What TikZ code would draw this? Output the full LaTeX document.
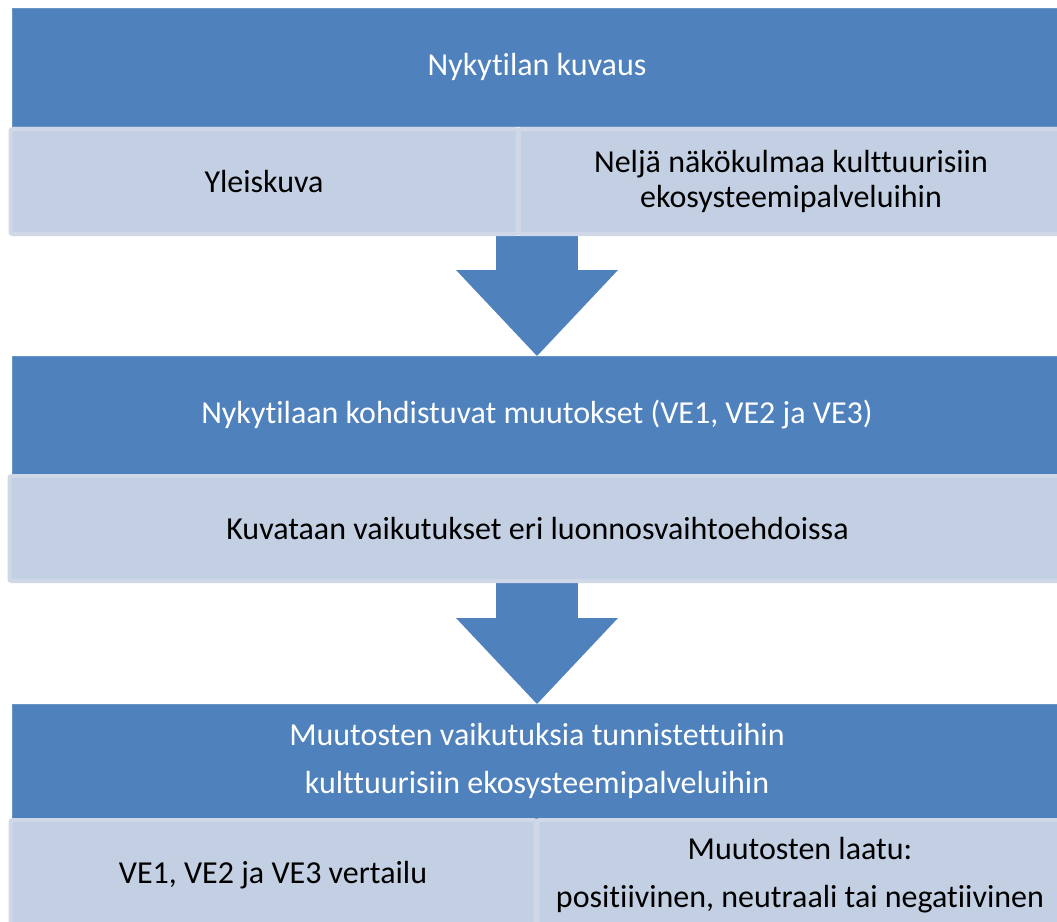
\documentclass[tikz,border=0pt]{standalone}
\usepackage{fontspec}
\setmainfont[Ligatures=NoCommon]{Carlito}
\usetikzlibrary{arrows.meta}
\definecolor{darkblue}{RGB}{79,129,189}
\definecolor{lightfill}{RGB}{195,207,226}
\definecolor{lightedge}{RGB}{208,216,232}
\tikzset{
  x=1pt, y=-1pt,
  darkbox/.style={fill=darkblue, draw=darkblue!85!white, line width=0.8pt, text=white,
    minimum width=1050pt, minimum height=#1, inner sep=0pt, outer sep=0pt, align=center,
    font=\fontsize{32}{38}\selectfont},
  lightbox/.style={fill=lightfill, draw=lightedge, line width=4pt, rounded corners=2pt, text=black,
    minimum height=105pt, inner sep=0pt, outer sep=0pt, align=center,
    font=\fontsize{32}{38}\selectfont},
  bigarrow/.style={draw=darkblue, line width=82pt,
    -{Triangle[width=162pt,length=86pt,line width=0pt]}},
}
\begin{document}
\begin{tikzpicture}
\useasboundingbox (0,0) rectangle (1057,921);
% top section
\node[darkbox=118pt] (d1) at (537,67) {Nykytilan kuvaus};
% middle section
\node[darkbox=118pt] (d2) at (537,415) {Nykytilaan kohdistuvat muutokset (VE1, VE2 ja VE3)};
% bottom section
\node[darkbox=114pt, font=\fontsize{32}{48}\selectfont] (d3) at (537,761) {Muutosten vaikutuksia tunnistettuihin\\kulttuurisiin ekosysteemipalveluihin};
% arrows
\coordinate (a1) at (537,236);
\coordinate (a2) at (537,583);
\draw[bigarrow] (a1) -- (d2.north);
\draw[bigarrow] (a2) -- (d3.north);
% light boxes
\node[lightbox, minimum width=507pt] (l1a) at (264,181.5) {Yleiskuva};
\node[lightbox, minimum width=544pt, font=\fontsize{32}{35}\selectfont] (l1b) at (791,181.5) {Neljä näkökulmaa kulttuurisiin\\ekosysteemipalveluihin};
\node[lightbox, minimum width=1056pt] (l2) at (537.5,528.5) {Kuvataan vaikutukset eri luonnosvaihtoehdoissa};
\node[lightbox, minimum width=525pt, minimum height=110pt] (l3a) at (273,875) {VE1, VE2 ja VE3 vertailu};
\node[lightbox, minimum width=525pt, minimum height=110pt, font=\fontsize{32}{48}\selectfont] (l3b) at (800,875) {Muutosten laatu:\\positiivinen, neutraali tai negatiivinen};
\end{tikzpicture}
\end{document}
